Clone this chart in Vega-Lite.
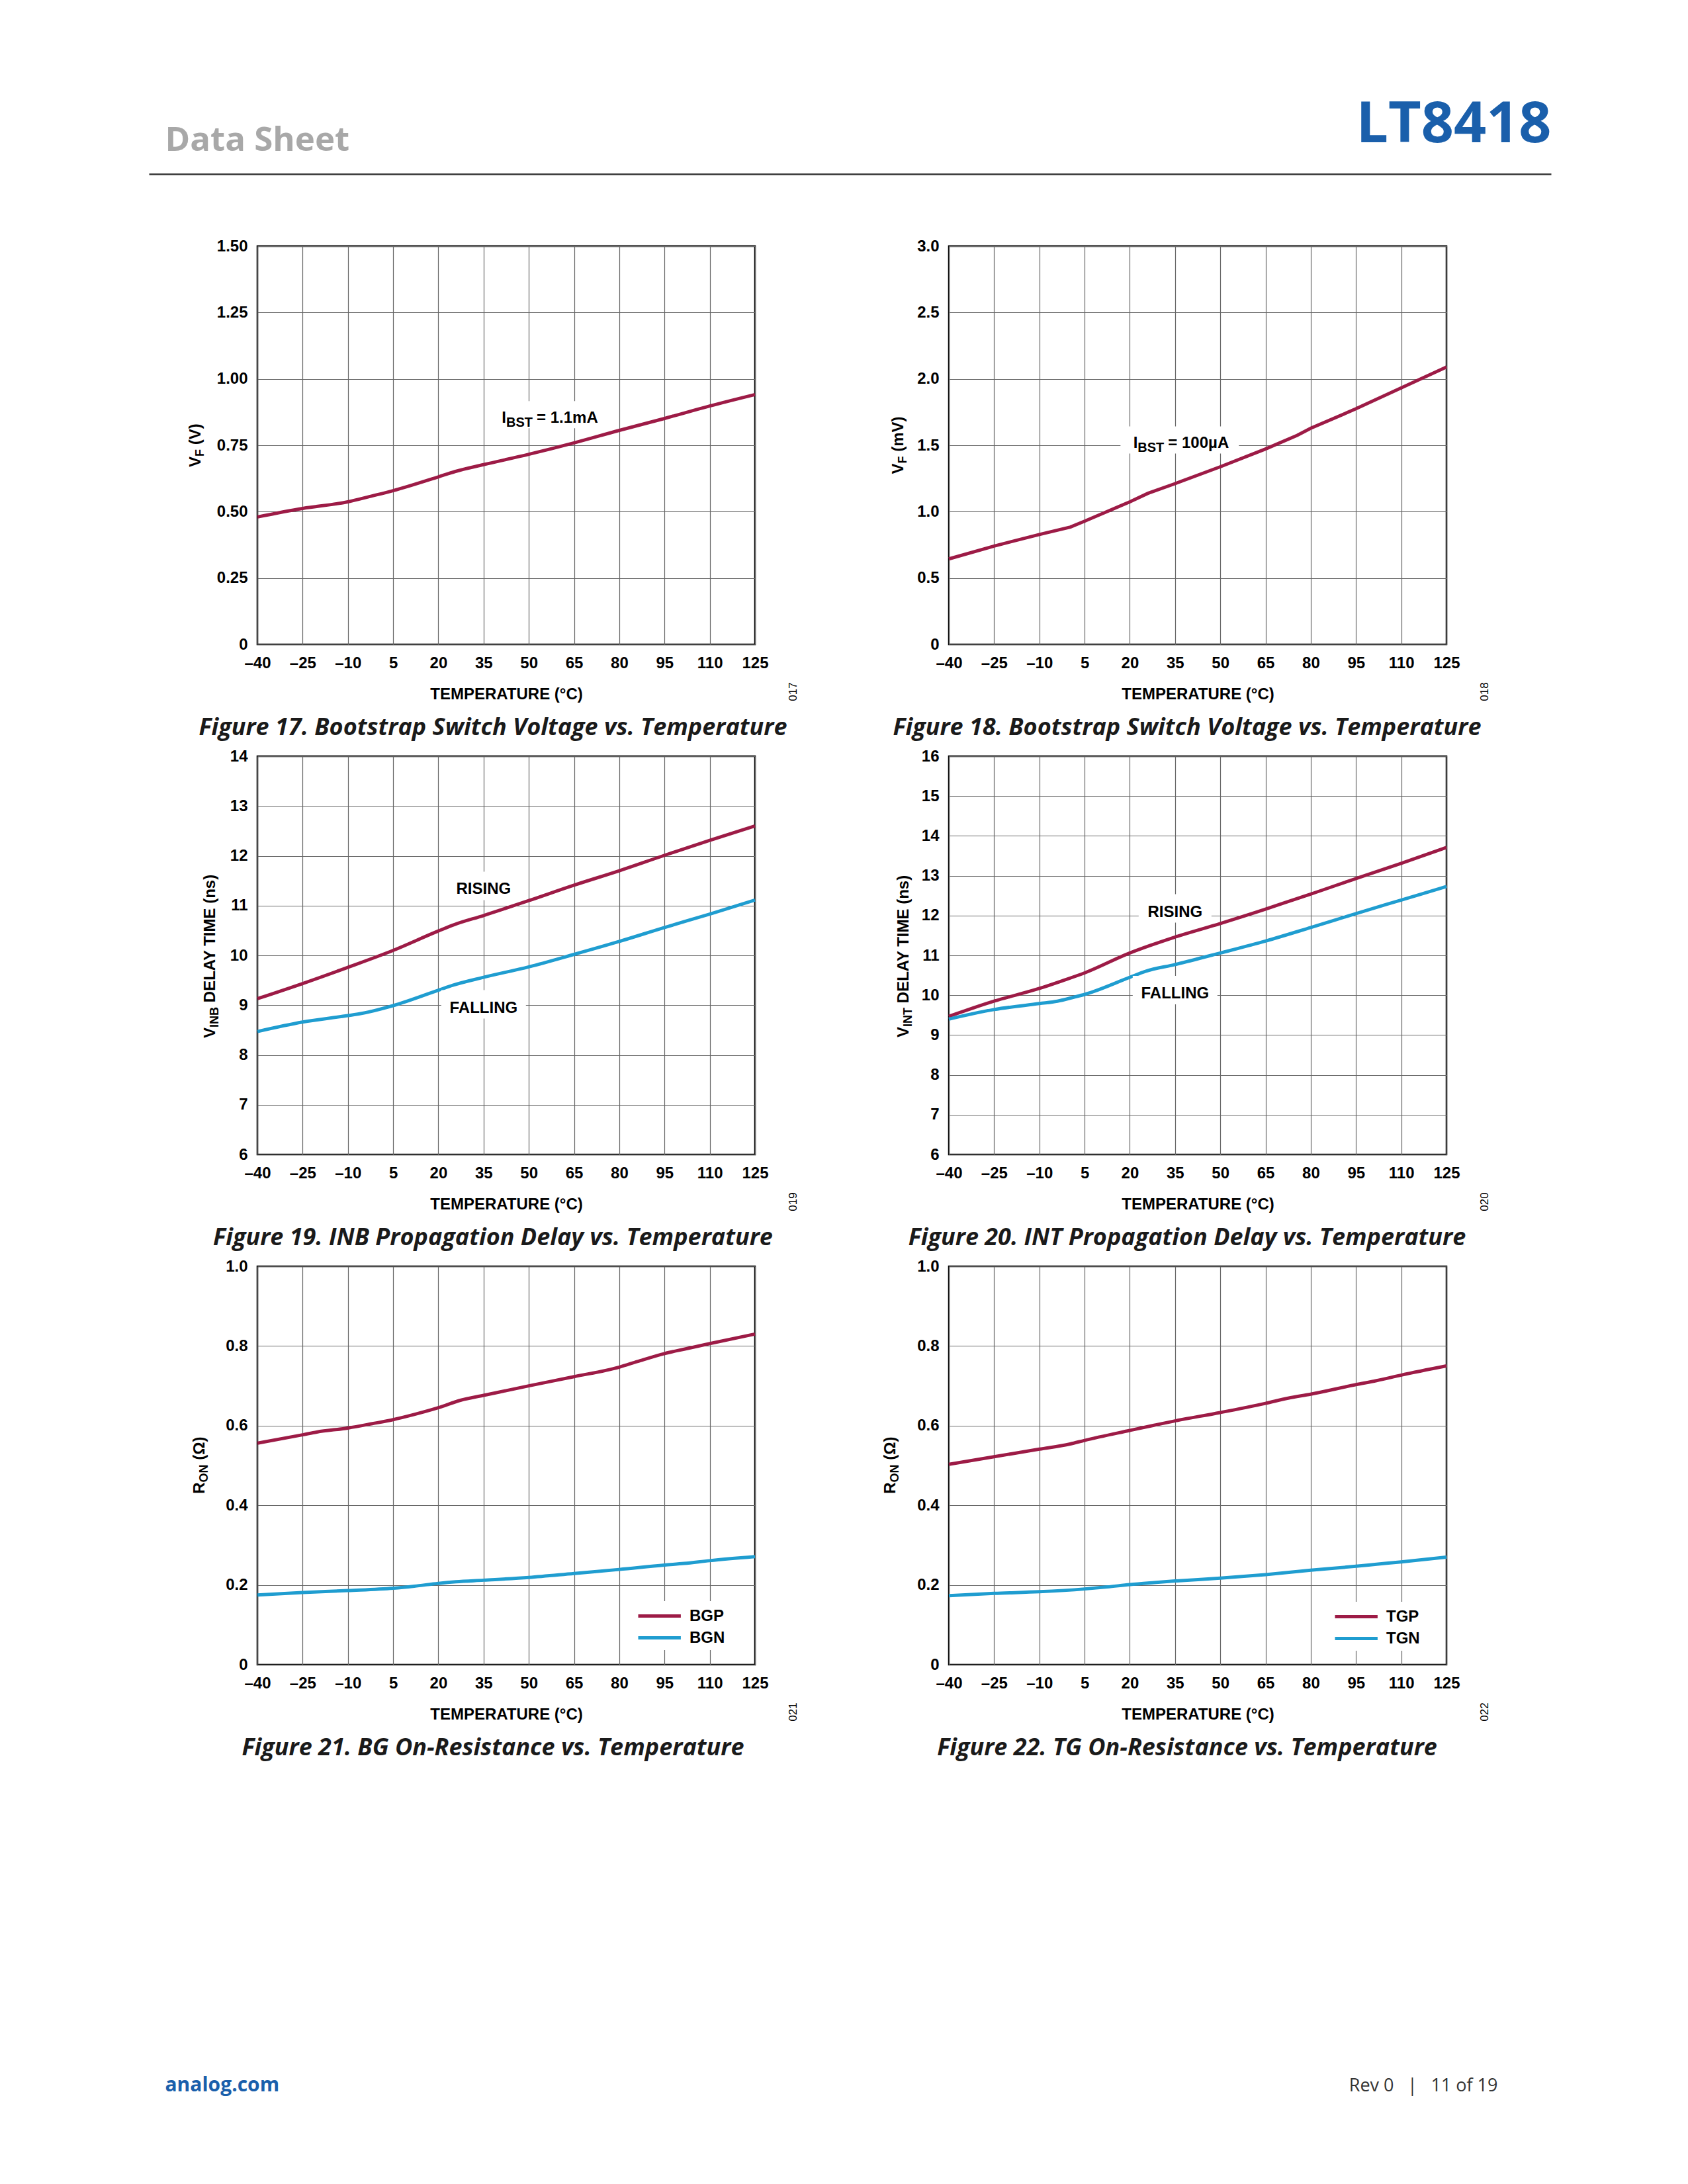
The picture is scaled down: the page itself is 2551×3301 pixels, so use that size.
{
  "$schema": "https://vega.github.io/schema/vega-lite/v6.json",
  "background": "#ffffff",
  "padding": {"left": 249, "top": 145, "right": 40, "bottom": 40},
  "columns": 2,
  "spacing": {"row": 169, "column": 293},
  "bounds": "flush",
  "resolve": {"scale": {"color": "independent", "shape": "independent"}, "legend": {"color": "independent", "shape": "independent"}},
  "concat": [
    {
      "width": 752,
      "height": 40,
      "view": {"stroke": null},
      "data": {"values": []},
      "mark": "point",
      "encoding": {
        "x": {"field": "a", "type": "quantitative", "scale": {"domain": [0, 1], "range": [-164, 1955]},
          "axis": {"domain": true, "domainColor": "#333333", "domainWidth": 2.5, "grid": false, "labels": false, "ticks": false, "title": null, "offset": 60}},
        "y": {"field": "b", "type": "quantitative", "scale": {"domain": [0, 1]},
          "axis": {"grid": false, "labels": false, "ticks": false, "domain": false,
            "title": "Data Sheet", "titleFont": "Open Sans", "titleFontSize": 51, "titleFontWeight": "bold", "titleColor": "#a8a8a8",
            "titleAngle": 0, "titleAlign": "left", "titleBaseline": "alphabetic", "titleX": -140, "titleY": 64}}
      }
    },
    {
      "width": 752,
      "height": 40,
      "view": {"stroke": null},
      "data": {"values": []},
      "mark": "point",
      "encoding": {
        "x": {"field": "a", "type": "quantitative", "scale": {"domain": [0, 1]},
          "axis": {"domain": false, "grid": false, "labels": false, "ticks": false,
            "title": "LT8418", "titleFont": "Open Sans", "titleFontSize": 86, "titleFontWeight": "bold", "titleColor": "#1a5fab",
            "titleAlign": "right", "titleBaseline": "top", "titleX": 910, "titleY": -57}}
      }
    },
    {
      "width": 752, "height": 602,
      "title": {"text": "Figure 17. Bootstrap Switch Voltage vs. Temperature", "dx": -20},
      "data": {"values": [
        {"T": -40, "v": 0.48}, {"T": -25, "v": 0.512}, {"T": -10, "v": 0.537}, {"T": -2, "v": 0.559},
        {"T": 5, "v": 0.579}, {"T": 20, "v": 0.631}, {"T": 25.5, "v": 0.651}, {"T": 35, "v": 0.677},
        {"T": 50, "v": 0.716}, {"T": 65, "v": 0.759}, {"T": 80, "v": 0.806}, {"T": 95, "v": 0.851},
        {"T": 110, "v": 0.898}, {"T": 125, "v": 0.941}
      ]},
      "resolve": {"axis": {"x": "independent", "y": "independent"}},
      "layer": [
        {
          "mark": {"type": "line", "interpolate": "monotone", "color": "#9d1b46"},
          "encoding": {
            "x": {"field": "T", "type": "quantitative", "scale": {"domain": [-40, 125], "nice": false, "zero": false},
              "axis": {"values": [-40, -25, -10, 5, 20, 35, 50, 65, 80, 95, 110, 125], "title": "TEMPERATURE (°C)",
                "labelExpr": "datum.value < 0 ? '–' + abs(datum.value) : datum.label"}},
            "y": {"field": "v", "type": "quantitative", "scale": {"domain": [0, 1.5], "nice": false, "zero": false},
              "axis": {"values": [0, 0.25, 0.5, 0.75, 1, 1.25, 1.5], "title": null,
                "labelExpr": "datum.value == 0 ? '0' : format(datum.value, '.2f')"}}
          }
        },
        {
          "data": {"values": [{"a": "V", "b": "F", "c": "(V)"}]},
          "encoding": {"x": {"datum": -40, "type": "quantitative", "axis": null}, "y": {"datum": 0.75, "type": "quantitative", "axis": null}},
          "layer": [
            {"mark": {"type": "text", "angle": 270, "align": "left", "baseline": "alphabetic", "fontSize": 24, "fontWeight": "bold", "color": "#000000", "dx": -32.9, "dy": -86.5}, "encoding": {"text": {"field": "a"}}},
            {"mark": {"type": "text", "angle": 270, "align": "left", "baseline": "alphabetic", "fontSize": 18, "fontWeight": "bold", "color": "#000000", "dx": -16.9, "dy": -81.5}, "encoding": {"text": {"field": "b"}}},
            {"mark": {"type": "text", "angle": 270, "align": "left", "baseline": "alphabetic", "fontSize": 24, "fontWeight": "bold", "color": "#000000", "dx": 0.8, "dy": -86.5}, "encoding": {"text": {"field": "c"}}}
          ]
        },
        {
          "data": {"values": [{"T": 52.6, "v": 0.834, "pre": "I", "sub": "BST", "main": "= 1.1mA"}]},
          "layer": [
            {"mark": {"type": "point", "shape": "M-70,-33H105V8H-70Z", "size": 4, "filled": true, "fill": "#ffffff", "opacity": 1, "strokeWidth": 0}},
            {"mark": {"type": "text", "align": "right", "baseline": "alphabetic", "dx": -46, "fontSize": 24, "fontWeight": "bold", "color": "#000000"},
              "encoding": {"text": {"field": "pre"}}},
            {"mark": {"type": "text", "align": "right", "baseline": "alphabetic", "dx": -6, "dy": 6, "fontSize": 20, "fontWeight": "bold", "color": "#000000"},
              "encoding": {"text": {"field": "sub"}}},
            {"mark": {"type": "text", "align": "left", "baseline": "alphabetic", "fontSize": 24, "fontWeight": "bold", "color": "#000000"},
              "encoding": {"text": {"field": "main"}}}
          ],
          "encoding": {
            "x": {"field": "T", "type": "quantitative", "axis": null},
            "y": {"field": "v", "type": "quantitative", "axis": null}
          }
        },
        {
          "mark": {"type": "text", "text": ""},
          "encoding": {
            "x": {"field": "T", "type": "quantitative", "axis": null},
            "y": {"field": "v", "type": "quantitative",
              "axis": {"orient": "right", "labels": false, "grid": false, "title": "017", "titleAngle": 270, "titleX": 62, "titleY": 673,
                "titleFontSize": 17, "titleFontWeight": "normal", "titleBaseline": "alphabetic"}}
          }
        }
      ]
    },
    {
      "width": 752, "height": 602,
      "title": {"text": "Figure 18. Bootstrap Switch Voltage vs. Temperature", "dx": -16},
      "data": {"values": [
        {"T": -40, "v": 0.644}, {"T": -25, "v": 0.741}, {"T": -10, "v": 0.828}, {"T": 0.3, "v": 0.884},
        {"T": 5, "v": 0.928}, {"T": 20, "v": 1.074}, {"T": 26, "v": 1.138}, {"T": 35, "v": 1.211},
        {"T": 50, "v": 1.338}, {"T": 65, "v": 1.472}, {"T": 75.5, "v": 1.575}, {"T": 80, "v": 1.628},
        {"T": 95, "v": 1.775}, {"T": 110, "v": 1.932}, {"T": 125, "v": 2.089}
      ]},
      "resolve": {"axis": {"x": "independent", "y": "independent"}},
      "layer": [
        {
          "mark": {"type": "line", "color": "#9d1b46"},
          "encoding": {
            "x": {"field": "T", "type": "quantitative", "scale": {"domain": [-40, 125], "nice": false, "zero": false},
              "axis": {"values": [-40, -25, -10, 5, 20, 35, 50, 65, 80, 95, 110, 125], "title": "TEMPERATURE (°C)",
                "labelExpr": "datum.value < 0 ? '–' + abs(datum.value) : datum.label"}},
            "y": {"field": "v", "type": "quantitative", "scale": {"domain": [0, 3], "nice": false, "zero": false},
              "axis": {"values": [0, 0.5, 1, 1.5, 2, 2.5, 3], "title": null,
                "labelExpr": "datum.value == 0 ? '0' : format(datum.value, '.1f')"}}
          }
        },
        {
          "data": {"values": [{"a": "V", "b": "F", "c": "(mV)"}]},
          "encoding": {"x": {"datum": -40, "type": "quantitative", "axis": null}, "y": {"datum": 1.5, "type": "quantitative", "axis": null}},
          "layer": [
            {"mark": {"type": "text", "angle": 270, "align": "left", "baseline": "alphabetic", "fontSize": 24, "fontWeight": "bold", "color": "#000000", "dx": -43.5, "dy": -69.5}, "encoding": {"text": {"field": "a"}}},
            {"mark": {"type": "text", "angle": 270, "align": "left", "baseline": "alphabetic", "fontSize": 18, "fontWeight": "bold", "color": "#000000", "dx": -27.5, "dy": -64.5}, "encoding": {"text": {"field": "b"}}},
            {"mark": {"type": "text", "angle": 270, "align": "left", "baseline": "alphabetic", "fontSize": 24, "fontWeight": "bold", "color": "#000000", "dx": -9.8, "dy": -69.5}, "encoding": {"text": {"field": "c"}}}
          ]
        },
        {
          "data": {"values": [{"T": 32.7, "v": 1.478, "pre": "I", "sub": "BST", "main": "= 100µA"}]},
          "layer": [
            {"mark": {"type": "point", "shape": "M-72,-33H107V8H-72Z", "size": 4, "filled": true, "fill": "#ffffff", "opacity": 1, "strokeWidth": 0}},
            {"mark": {"type": "text", "align": "right", "baseline": "alphabetic", "dx": -46, "fontSize": 24, "fontWeight": "bold", "color": "#000000"},
              "encoding": {"text": {"field": "pre"}}},
            {"mark": {"type": "text", "align": "right", "baseline": "alphabetic", "dx": -6, "dy": 6, "fontSize": 20, "fontWeight": "bold", "color": "#000000"},
              "encoding": {"text": {"field": "sub"}}},
            {"mark": {"type": "text", "align": "left", "baseline": "alphabetic", "fontSize": 24, "fontWeight": "bold", "color": "#000000"},
              "encoding": {"text": {"field": "main"}}}
          ],
          "encoding": {
            "x": {"field": "T", "type": "quantitative", "axis": null},
            "y": {"field": "v", "type": "quantitative", "axis": null}
          }
        },
        {
          "mark": {"type": "text", "text": ""},
          "encoding": {
            "x": {"field": "T", "type": "quantitative", "axis": null},
            "y": {"field": "v", "type": "quantitative",
              "axis": {"orient": "right", "labels": false, "grid": false, "title": "018", "titleAngle": 270, "titleX": 62, "titleY": 673,
                "titleFontSize": 17, "titleFontWeight": "normal", "titleBaseline": "alphabetic"}}
          }
        }
      ]
    },
    {
      "width": 752, "height": 602,
      "title": {"text": "Figure 19. INB Propagation Delay vs. Temperature", "dx": -20},
      "data": {"values": [
        {"s": "RISING", "T": -40, "v": 9.13}, {"s": "RISING", "T": -25, "v": 9.435}, {"s": "RISING", "T": -10, "v": 9.76},
        {"s": "RISING", "T": 5, "v": 10.1}, {"s": "RISING", "T": 20, "v": 10.49}, {"s": "RISING", "T": 25.4, "v": 10.62},
        {"s": "RISING", "T": 35, "v": 10.8}, {"s": "RISING", "T": 50, "v": 11.1}, {"s": "RISING", "T": 65, "v": 11.41},
        {"s": "RISING", "T": 80, "v": 11.7}, {"s": "RISING", "T": 95, "v": 12.01}, {"s": "RISING", "T": 110, "v": 12.31},
        {"s": "RISING", "T": 125, "v": 12.6},
        {"s": "FALLING", "T": -40, "v": 8.47}, {"s": "FALLING", "T": -25, "v": 8.66}, {"s": "FALLING", "T": -10, "v": 8.79},
        {"s": "FALLING", "T": -5.8, "v": 8.83}, {"s": "FALLING", "T": 5, "v": 8.99}, {"s": "FALLING", "T": 20, "v": 9.3},
        {"s": "FALLING", "T": 24.8, "v": 9.4}, {"s": "FALLING", "T": 35, "v": 9.56}, {"s": "FALLING", "T": 50, "v": 9.77},
        {"s": "FALLING", "T": 65, "v": 10.02}, {"s": "FALLING", "T": 80, "v": 10.28}, {"s": "FALLING", "T": 95, "v": 10.56},
        {"s": "FALLING", "T": 110, "v": 10.83}, {"s": "FALLING", "T": 125, "v": 11.11}
      ]},
      "resolve": {"axis": {"x": "independent", "y": "independent"}},
      "layer": [
        {
          "mark": {"type": "line", "interpolate": "monotone"},
          "encoding": {
            "x": {"field": "T", "type": "quantitative", "scale": {"domain": [-40, 125], "nice": false, "zero": false},
              "axis": {"values": [-40, -25, -10, 5, 20, 35, 50, 65, 80, 95, 110, 125], "title": "TEMPERATURE (°C)",
                "labelExpr": "datum.value < 0 ? '–' + abs(datum.value) : datum.label"}},
            "y": {"field": "v", "type": "quantitative", "scale": {"domain": [6, 14], "nice": false, "zero": false},
              "axis": {"values": [6, 7, 8, 9, 10, 11, 12, 13, 14], "title": null}},
            "color": {"field": "s", "type": "nominal", "scale": {"domain": ["RISING", "FALLING"], "range": ["#9d1b46", "#1f9dd0"]}, "legend": null}
          }
        },
        {
          "data": {"values": [{"a": "V", "b": "INB", "c": "DELAY TIME (ns)"}]},
          "encoding": {"x": {"datum": -40, "type": "quantitative", "axis": null}, "y": {"datum": 10, "type": "quantitative", "axis": null}},
          "layer": [
            {"mark": {"type": "text", "angle": 270, "align": "left", "baseline": "alphabetic", "fontSize": 24, "fontWeight": "bold", "color": "#000000", "dx": -124.9, "dy": -64.5}, "encoding": {"text": {"field": "a"}}},
            {"mark": {"type": "text", "angle": 270, "align": "left", "baseline": "alphabetic", "fontSize": 18, "fontWeight": "bold", "color": "#000000", "dx": -108.9, "dy": -59.5}, "encoding": {"text": {"field": "b"}}},
            {"mark": {"type": "text", "angle": 270, "align": "left", "baseline": "alphabetic", "fontSize": 24, "fontWeight": "bold", "color": "#000000", "dx": -71.2, "dy": -64.5}, "encoding": {"text": {"field": "c"}}}
          ]
        },
        {
          "data": {"values": [{"T": 35, "v": 11.23, "label": "RISING"}, {"T": 35, "v": 8.85, "label": "FALLING"}]},
          "layer": [
            {"mark": {"type": "point", "size": 4, "filled": true, "fill": "#ffffff", "opacity": 1, "strokeWidth": 0},
              "encoding": {"shape": {"field": "label", "type": "nominal", "scale": {"domain": ["RISING", "FALLING"], "range": ["M-55,-34H55V9H-55Z", "M-64,-34H64V9H-64Z"]}, "legend": null}}},
            {"mark": {"type": "text", "align": "center", "baseline": "alphabetic", "fontSize": 24, "fontWeight": "bold", "color": "#000000"},
              "encoding": {"text": {"field": "label"}}}
          ],
          "encoding": {
            "x": {"field": "T", "type": "quantitative", "axis": null},
            "y": {"field": "v", "type": "quantitative", "axis": null}
          }
        },
        {
          "mark": {"type": "text", "text": ""},
          "encoding": {
            "x": {"field": "T", "type": "quantitative", "axis": null},
            "y": {"field": "v", "type": "quantitative",
              "axis": {"orient": "right", "labels": false, "grid": false, "title": "019", "titleAngle": 270, "titleX": 62, "titleY": 673,
                "titleFontSize": 17, "titleFontWeight": "normal", "titleBaseline": "alphabetic"}}
          }
        }
      ]
    },
    {
      "width": 752, "height": 602,
      "title": {"text": "Figure 20. INT Propagation Delay vs. Temperature", "dx": -16},
      "data": {"values": [
        {"s": "RISING", "T": -40, "v": 9.47}, {"s": "RISING", "T": -25, "v": 9.85}, {"s": "RISING", "T": -10, "v": 10.17},
        {"s": "RISING", "T": -2.5, "v": 10.36}, {"s": "RISING", "T": 5, "v": 10.56}, {"s": "RISING", "T": 20, "v": 11.06},
        {"s": "RISING", "T": 26.8, "v": 11.25}, {"s": "RISING", "T": 35, "v": 11.46}, {"s": "RISING", "T": 50, "v": 11.8},
        {"s": "RISING", "T": 65, "v": 12.16}, {"s": "RISING", "T": 76, "v": 12.44}, {"s": "RISING", "T": 80, "v": 12.54},
        {"s": "RISING", "T": 95, "v": 12.93}, {"s": "RISING", "T": 110, "v": 13.31}, {"s": "RISING", "T": 125, "v": 13.71},
        {"s": "FALLING", "T": -40, "v": 9.4}, {"s": "FALLING", "T": -25, "v": 9.64}, {"s": "FALLING", "T": -10, "v": 9.79},
        {"s": "FALLING", "T": -4, "v": 9.85}, {"s": "FALLING", "T": 1.4, "v": 9.95}, {"s": "FALLING", "T": 5, "v": 10.02},
        {"s": "FALLING", "T": 20, "v": 10.45}, {"s": "FALLING", "T": 25.2, "v": 10.6}, {"s": "FALLING", "T": 35, "v": 10.77},
        {"s": "FALLING", "T": 50, "v": 11.06}, {"s": "FALLING", "T": 65, "v": 11.36}, {"s": "FALLING", "T": 80, "v": 11.7},
        {"s": "FALLING", "T": 95, "v": 12.05}, {"s": "FALLING", "T": 110, "v": 12.39}, {"s": "FALLING", "T": 125, "v": 12.73}
      ]},
      "resolve": {"axis": {"x": "independent", "y": "independent"}},
      "layer": [
        {
          "mark": {"type": "line", "interpolate": "monotone"},
          "encoding": {
            "x": {"field": "T", "type": "quantitative", "scale": {"domain": [-40, 125], "nice": false, "zero": false},
              "axis": {"values": [-40, -25, -10, 5, 20, 35, 50, 65, 80, 95, 110, 125], "title": "TEMPERATURE (°C)",
                "labelExpr": "datum.value < 0 ? '–' + abs(datum.value) : datum.label"}},
            "y": {"field": "v", "type": "quantitative", "scale": {"domain": [6, 16], "nice": false, "zero": false},
              "axis": {"values": [6, 7, 8, 9, 10, 11, 12, 13, 14, 15, 16], "title": null}},
            "color": {"field": "s", "type": "nominal", "scale": {"domain": ["RISING", "FALLING"], "range": ["#9d1b46", "#1f9dd0"]}, "legend": null}
          }
        },
        {
          "data": {"values": [{"a": "V", "b": "INT", "c": "DELAY TIME (ns)"}]},
          "encoding": {"x": {"datum": -40, "type": "quantitative", "axis": null}, "y": {"datum": 11, "type": "quantitative", "axis": null}},
          "layer": [
            {"mark": {"type": "text", "angle": 270, "align": "left", "baseline": "alphabetic", "fontSize": 24, "fontWeight": "bold", "color": "#000000", "dx": -123.9, "dy": -61.5}, "encoding": {"text": {"field": "a"}}},
            {"mark": {"type": "text", "angle": 270, "align": "left", "baseline": "alphabetic", "fontSize": 18, "fontWeight": "bold", "color": "#000000", "dx": -107.9, "dy": -56.5}, "encoding": {"text": {"field": "b"}}},
            {"mark": {"type": "text", "angle": 270, "align": "left", "baseline": "alphabetic", "fontSize": 24, "fontWeight": "bold", "color": "#000000", "dx": -72.2, "dy": -61.5}, "encoding": {"text": {"field": "c"}}}
          ]
        },
        {
          "data": {"values": [{"T": 35, "v": 11.97, "label": "RISING"}, {"T": 35, "v": 9.92, "label": "FALLING"}]},
          "layer": [
            {"mark": {"type": "point", "size": 4, "filled": true, "fill": "#ffffff", "opacity": 1, "strokeWidth": 0},
              "encoding": {"shape": {"field": "label", "type": "nominal", "scale": {"domain": ["RISING", "FALLING"], "range": ["M-55,-34H55V9H-55Z", "M-64,-34H64V9H-64Z"]}, "legend": null}}},
            {"mark": {"type": "text", "align": "center", "baseline": "alphabetic", "fontSize": 24, "fontWeight": "bold", "color": "#000000"},
              "encoding": {"text": {"field": "label"}}}
          ],
          "encoding": {
            "x": {"field": "T", "type": "quantitative", "axis": null},
            "y": {"field": "v", "type": "quantitative", "axis": null}
          }
        },
        {
          "mark": {"type": "text", "text": ""},
          "encoding": {
            "x": {"field": "T", "type": "quantitative", "axis": null},
            "y": {"field": "v", "type": "quantitative",
              "axis": {"orient": "right", "labels": false, "grid": false, "title": "020", "titleAngle": 270, "titleX": 62, "titleY": 673,
                "titleFontSize": 17, "titleFontWeight": "normal", "titleBaseline": "alphabetic"}}
          }
        }
      ]
    },
    {
      "width": 752, "height": 602,
      "title": {"text": "Figure 21. BG On-Resistance vs. Temperature", "dx": -20},
      "data": {"values": [
        {"s": "BGP", "T": -40, "v": 0.556}, {"s": "BGP", "T": -25, "v": 0.577}, {"s": "BGP", "T": -20.3, "v": 0.584},
        {"s": "BGP", "T": -10, "v": 0.594}, {"s": "BGP", "T": -1.9, "v": 0.605}, {"s": "BGP", "T": 5, "v": 0.615},
        {"s": "BGP", "T": 12, "v": 0.628}, {"s": "BGP", "T": 20, "v": 0.645}, {"s": "BGP", "T": 27.5, "v": 0.664},
        {"s": "BGP", "T": 35, "v": 0.676}, {"s": "BGP", "T": 50, "v": 0.7}, {"s": "BGP", "T": 65, "v": 0.723},
        {"s": "BGP", "T": 80, "v": 0.747}, {"s": "BGP", "T": 86, "v": 0.761}, {"s": "BGP", "T": 95, "v": 0.781},
        {"s": "BGP", "T": 101.5, "v": 0.792}, {"s": "BGP", "T": 110, "v": 0.806}, {"s": "BGP", "T": 125, "v": 0.83},
        {"s": "BGN", "T": -40, "v": 0.175}, {"s": "BGN", "T": -25, "v": 0.181}, {"s": "BGN", "T": -10, "v": 0.186},
        {"s": "BGN", "T": 5, "v": 0.192}, {"s": "BGN", "T": 12, "v": 0.197}, {"s": "BGN", "T": 20, "v": 0.204},
        {"s": "BGN", "T": 25.8, "v": 0.208}, {"s": "BGN", "T": 35, "v": 0.212}, {"s": "BGN", "T": 50, "v": 0.219},
        {"s": "BGN", "T": 65, "v": 0.229}, {"s": "BGN", "T": 80, "v": 0.239}, {"s": "BGN", "T": 95, "v": 0.25},
        {"s": "BGN", "T": 101.5, "v": 0.254}, {"s": "BGN", "T": 110, "v": 0.261}, {"s": "BGN", "T": 125, "v": 0.271}
      ]},
      "resolve": {"axis": {"x": "independent", "y": "independent"}},
      "layer": [
        {
          "mark": {"type": "line", "interpolate": "monotone"},
          "encoding": {
            "x": {"field": "T", "type": "quantitative", "scale": {"domain": [-40, 125], "nice": false, "zero": false},
              "axis": {"values": [-40, -25, -10, 5, 20, 35, 50, 65, 80, 95, 110, 125], "title": "TEMPERATURE (°C)",
                "labelExpr": "datum.value < 0 ? '–' + abs(datum.value) : datum.label"}},
            "y": {"field": "v", "type": "quantitative", "scale": {"domain": [0, 1], "nice": false, "zero": false},
              "axis": {"values": [0, 0.2, 0.4, 0.6, 0.8, 1], "title": null,
                "labelExpr": "datum.value == 0 ? '0' : format(datum.value, '.1f')"}},
            "color": {"field": "s", "type": "nominal", "scale": {"domain": ["BGP", "BGN"], "range": ["#9d1b46", "#1f9dd0"]},
              "legend": {"orient": "none", "legendX": 567, "legendY": 506, "title": null, "fillColor": "#ffffff", "padding": 6,
                "symbolType": "M-1,0H3.6", "symbolSize": 784, "symbolStrokeWidth": 4.5, "labelOffset": 47, "rowPadding": 4,
                "labelFont": "Liberation Sans", "labelFontWeight": "bold", "labelFontSize": 24, "labelColor": "#000000"}}
          }
        },
        {
          "data": {"values": [{"a": "R", "b": "ON", "c": "(Ω)"}]},
          "encoding": {"x": {"datum": -40, "type": "quantitative", "axis": null}, "y": {"datum": 0.5, "type": "quantitative", "axis": null}},
          "layer": [
            {"mark": {"type": "text", "angle": 270, "align": "left", "baseline": "alphabetic", "fontSize": 24, "fontWeight": "bold", "color": "#000000", "dx": -42.7, "dy": -80.5}, "encoding": {"text": {"field": "a"}}},
            {"mark": {"type": "text", "angle": 270, "align": "left", "baseline": "alphabetic", "fontSize": 18, "fontWeight": "bold", "color": "#000000", "dx": -25.4, "dy": -75.5}, "encoding": {"text": {"field": "b"}}},
            {"mark": {"type": "text", "angle": 270, "align": "left", "baseline": "alphabetic", "fontSize": 24, "fontWeight": "bold", "color": "#000000", "dx": 8.3, "dy": -80.5}, "encoding": {"text": {"field": "c"}}}
          ]
        },
        {
          "mark": {"type": "text", "text": ""},
          "encoding": {
            "x": {"field": "T", "type": "quantitative", "axis": null},
            "y": {"field": "v", "type": "quantitative",
              "axis": {"orient": "right", "labels": false, "grid": false, "title": "021", "titleAngle": 270, "titleX": 62, "titleY": 673,
                "titleFontSize": 17, "titleFontWeight": "normal", "titleBaseline": "alphabetic"}}
          }
        }
      ]
    },
    {
      "width": 752, "height": 602,
      "title": {"text": "Figure 22. TG On-Resistance vs. Temperature", "dx": -16},
      "data": {"values": [
        {"s": "TGP", "T": -40, "v": 0.503}, {"s": "TGP", "T": -25, "v": 0.522}, {"s": "TGP", "T": -10, "v": 0.541},
        {"s": "TGP", "T": 0.2, "v": 0.554}, {"s": "TGP", "T": 5, "v": 0.563}, {"s": "TGP", "T": 20, "v": 0.588},
        {"s": "TGP", "T": 28, "v": 0.601}, {"s": "TGP", "T": 35, "v": 0.612}, {"s": "TGP", "T": 50, "v": 0.633},
        {"s": "TGP", "T": 65, "v": 0.656}, {"s": "TGP", "T": 72.5, "v": 0.669}, {"s": "TGP", "T": 80, "v": 0.679},
        {"s": "TGP", "T": 95, "v": 0.703}, {"s": "TGP", "T": 101.8, "v": 0.713}, {"s": "TGP", "T": 110, "v": 0.727},
        {"s": "TGP", "T": 125, "v": 0.75},
        {"s": "TGN", "T": -40, "v": 0.173}, {"s": "TGN", "T": -25, "v": 0.179}, {"s": "TGN", "T": -10, "v": 0.183},
        {"s": "TGN", "T": 5, "v": 0.19}, {"s": "TGN", "T": 12.5, "v": 0.195}, {"s": "TGN", "T": 20, "v": 0.201},
        {"s": "TGN", "T": 28, "v": 0.206}, {"s": "TGN", "T": 35, "v": 0.21}, {"s": "TGN", "T": 50, "v": 0.217},
        {"s": "TGN", "T": 65, "v": 0.226}, {"s": "TGN", "T": 80, "v": 0.237}, {"s": "TGN", "T": 95, "v": 0.247},
        {"s": "TGN", "T": 101.8, "v": 0.252}, {"s": "TGN", "T": 110, "v": 0.258}, {"s": "TGN", "T": 125, "v": 0.27}
      ]},
      "resolve": {"axis": {"x": "independent", "y": "independent"}},
      "layer": [
        {
          "mark": {"type": "line", "interpolate": "monotone"},
          "encoding": {
            "x": {"field": "T", "type": "quantitative", "scale": {"domain": [-40, 125], "nice": false, "zero": false},
              "axis": {"values": [-40, -25, -10, 5, 20, 35, 50, 65, 80, 95, 110, 125], "title": "TEMPERATURE (°C)",
                "labelExpr": "datum.value < 0 ? '–' + abs(datum.value) : datum.label"}},
            "y": {"field": "v", "type": "quantitative", "scale": {"domain": [0, 1], "nice": false, "zero": false},
              "axis": {"values": [0, 0.2, 0.4, 0.6, 0.8, 1], "title": null,
                "labelExpr": "datum.value == 0 ? '0' : format(datum.value, '.1f')"}},
            "color": {"field": "s", "type": "nominal", "scale": {"domain": ["TGP", "TGN"], "range": ["#9d1b46", "#1f9dd0"]},
              "legend": {"orient": "none", "legendX": 575, "legendY": 507, "title": null, "fillColor": "#ffffff", "padding": 6,
                "symbolType": "M-1,0H3.6", "symbolSize": 784, "symbolStrokeWidth": 4.5, "labelOffset": 47, "rowPadding": 4,
                "labelFont": "Liberation Sans", "labelFontWeight": "bold", "labelFontSize": 24, "labelColor": "#000000"}}
          }
        },
        {
          "data": {"values": [{"a": "R", "b": "ON", "c": "(Ω)"}]},
          "encoding": {"x": {"datum": -40, "type": "quantitative", "axis": null}, "y": {"datum": 0.5, "type": "quantitative", "axis": null}},
          "layer": [
            {"mark": {"type": "text", "angle": 270, "align": "left", "baseline": "alphabetic", "fontSize": 24, "fontWeight": "bold", "color": "#000000", "dx": -42.7, "dy": -81.5}, "encoding": {"text": {"field": "a"}}},
            {"mark": {"type": "text", "angle": 270, "align": "left", "baseline": "alphabetic", "fontSize": 18, "fontWeight": "bold", "color": "#000000", "dx": -25.4, "dy": -76.5}, "encoding": {"text": {"field": "b"}}},
            {"mark": {"type": "text", "angle": 270, "align": "left", "baseline": "alphabetic", "fontSize": 24, "fontWeight": "bold", "color": "#000000", "dx": 8.3, "dy": -81.5}, "encoding": {"text": {"field": "c"}}}
          ]
        },
        {
          "mark": {"type": "text", "text": ""},
          "encoding": {
            "x": {"field": "T", "type": "quantitative", "axis": null},
            "y": {"field": "v", "type": "quantitative",
              "axis": {"orient": "right", "labels": false, "grid": false, "title": "022", "titleAngle": 270, "titleX": 62, "titleY": 673,
                "titleFontSize": 17, "titleFontWeight": "normal", "titleBaseline": "alphabetic"}}
          }
        }
      ]
    },
    {
      "width": 752,
      "height": 480,
      "view": {"stroke": null},
      "data": {"values": []},
      "mark": "point",
      "encoding": {
        "y": {"field": "b", "type": "quantitative", "scale": {"domain": [0, 1]},
          "axis": {"grid": false, "labels": false, "ticks": false, "domain": false,
            "title": "analog.com", "titleFont": "Open Sans", "titleFontSize": 30, "titleFontWeight": "bold", "titleColor": "#1a5fab",
            "titleAngle": 0, "titleAlign": "left", "titleBaseline": "alphabetic", "titleX": -140, "titleY": 475}}
      }
    },
    {
      "width": 752,
      "height": 480,
      "view": {"stroke": null},
      "data": {"values": []},
      "mark": "point",
      "encoding": {
        "x": {"field": "a", "type": "quantitative", "scale": {"domain": [0, 1]},
          "axis": {"domain": false, "grid": false, "labels": false, "ticks": false,
            "title": "Rev 0\u2002\u00a0|\u2002\u00a011 of 19", "titleFont": "Open Sans", "titleFontSize": 27, "titleFontWeight": "normal", "titleColor": "#333333",
            "titleAlign": "right", "titleBaseline": "alphabetic", "titleX": 829, "titleY": -5}}
      }
    }
  ],
  "config": {
    "view": {"stroke": "#000000", "strokeWidth": 2.5},
    "font": "Liberation Sans",
    "line": {"strokeWidth": 5},
    "axis": {
      "grid": true, "gridColor": "#666666", "gridWidth": 1.2, "gridOpacity": 1,
      "domain": false, "ticks": false, "labelFlush": false, "labelOverlap": false,
      "labelFont": "Liberation Sans", "labelFontSize": 24, "labelFontWeight": "bold", "labelColor": "#000000", "labelPadding": 15,
      "titleFont": "Liberation Sans", "titleFontSize": 24, "titleFontWeight": "bold", "titleColor": "#000000"
    },
    "axisX": {"labelPadding": 16, "titleY": 82, "titleBaseline": "alphabetic"},
    "axisY": {"titleBaseline": "alphabetic"},
    "title": {"font": "Open Sans", "fontSize": 36, "fontWeight": "bold", "fontStyle": "italic", "color": "#1a1a1a",
      "orient": "bottom", "anchor": "middle", "offset": 22, "baseline": "alphabetic"}
  }
}
